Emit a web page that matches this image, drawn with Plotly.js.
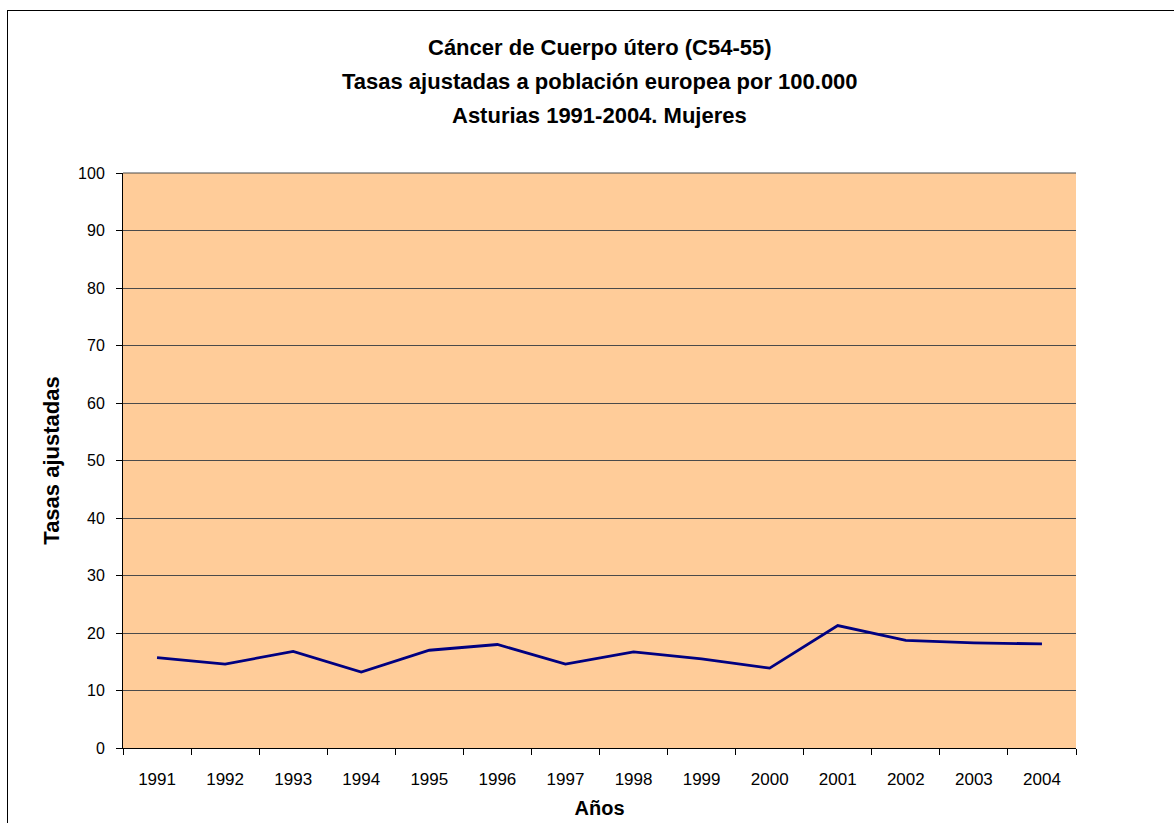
<!DOCTYPE html>
<html>
<head>
<meta charset="utf-8">
<script src="https://cdn.plot.ly/plotly-3.0.1.min.js"></script>
<style>
  html, body { margin: 0; padding: 0; background: #fff; }
  #wrap { position: relative; width: 1174px; height: 823px; overflow: hidden; }
  #chart { width: 1174px; height: 823px; }
  #frame { position: absolute; left: 7px; top: 10px; width: 1200px; height: 900px;
           border: 1px solid #000; box-sizing: border-box; pointer-events: none; }
</style>
</head>
<body>
<div id="wrap">
  <div id="chart"></div>
  <div id="frame"></div>
</div>
<script>
const years = ["1991","1992","1993","1994","1995","1996","1997","1998","1999","2000","2001","2002","2003","2004"];
const tasas = [15.7, 14.6, 16.8, 13.2, 17.0, 18.0, 14.6, 16.7, 15.5, 13.9, 21.3, 18.7, 18.3, 18.1];
const titleLines = ["Cáncer de Cuerpo útero (C54-55)", "Tasas ajustadas a población europea por 100.000", "Asturias 1991-2004. Mujeres"];
const xTitle = "Años";
const yTitle = "Tasas ajustadas";

const FONT = '"Liberation Sans", Arial, sans-serif';

const trace = {
  x: years, y: tasas, type: 'scatter', mode: 'lines',
  line: { color: '#000080', width: 2.8 },
  hoverinfo: 'x+y'
};

// plot area: top 173px, bottom 748px (height 575)
const titleY = [47, 82, 116];
const toPaperY = px => (748 - px) / 575;

const layout = {
  width: 1174, height: 823,
  margin: { l: 123, r: 98, t: 173, b: 75 },
  paper_bgcolor: '#ffffff',
  plot_bgcolor: '#FFCC99',
  showlegend: false,
  font: { family: FONT, color: '#000', size: 17 },
  annotations: titleLines.map((t, i) => ({
    text: '<b>' + t + '</b>',
    xref: 'paper', yref: 'paper', x: 0.5, y: toPaperY(titleY[i]),
    xanchor: 'center', yanchor: 'middle', showarrow: false,
    font: { family: FONT, size: 22, color: '#000' }
  })),
  xaxis: {
    type: 'category',
    range: [-0.5, years.length - 0.5], autorange: false,
    tickson: 'boundaries',
    ticks: 'outside', ticklen: 6, tickcolor: '#000', tickwidth: 1,
    ticklabelstandoff: 16,
    showline: true, linecolor: '#000', linewidth: 1, mirror: false,
    showgrid: false, zeroline: false,
    tickfont: { family: FONT, size: 17, color: '#000' },
    title: { text: '<b>' + xTitle + '</b>', font: { family: FONT, size: 20, color: '#000' }, standoff: 12 },
    fixedrange: true
  },
  yaxis: {
    range: [0, 100], dtick: 10, tick0: 0, autorange: false,
    ticks: 'outside', ticklen: 6, tickcolor: '#000', tickwidth: 1,
    ticklabelstandoff: 8,
    showline: true, linecolor: '#000', linewidth: 1,
    showgrid: true, gridcolor: '#4a4a4a', gridwidth: 1,
    zeroline: false,
    tickfont: { family: FONT, size: 16, color: '#000' },
    title: { text: '<b>' + yTitle + '</b>', font: { family: FONT, size: 22, color: '#000' }, standoff: 12 },
    fixedrange: true
  },
  shapes: [
    { type: 'line', xref: 'paper', yref: 'paper', x0: 0, x1: 1, y0: 1, y1: 1, line: { color: '#4a4a4a', width: 1 } }
  ]
};

Plotly.newPlot('chart', [trace], layout, { displayModeBar: false });
</script>
</body>
</html>
